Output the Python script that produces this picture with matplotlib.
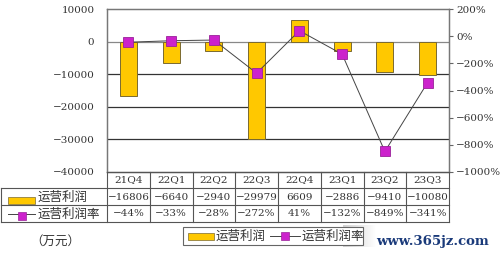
import numpy as np
import matplotlib
matplotlib.use("Agg")
import matplotlib.pyplot as plt
import matplotlib.transforms as mtransforms
from matplotlib.lines import Line2D
from matplotlib.patches import Rectangle

plt.rcParams['font.family'] = ['DejaVu Serif', 'Noto Sans CJK SC']

quarters = ['21Q4', '22Q1', '22Q2', '22Q3', '22Q4', '23Q1', '23Q2', '23Q3']
profit = [-16806, -6640, -2940, -29979, 6609, -2886, -9410, -10080]
margin = [-44, -33, -28, -272, 41, -132, -849, -341]
profit_name = '运营利润'
margin_name = '运营利润率'
left_ticks = [10000, 0, -10000, -20000, -30000, -40000]
right_ticks = [200, 0, -200, -400, -600, -800, -1000]

bar_color = '#FFC800'
mk_color = '#CC22CC'
txt = '#333333'
fs = 7.5
cfs = 9

fig = plt.figure(figsize=(5, 2.6), dpi=100)
ax = fig.add_axes([0.214, 0.3385, 0.684, 0.6265])
ax2 = ax.twinx()

x = np.arange(len(quarters))
ax.bar(x, profit, width=0.4, color=bar_color, edgecolor='#7a6a30', linewidth=0.7, zorder=2)
ax.set_xlim(-0.5, len(quarters) - 0.5)
ax.set_ylim(-40000, 10000)
ax.set_yticks(left_ticks)
ax.set_yticklabels([str(v).replace('-', '−') for v in left_ticks], fontsize=fs, color=txt)
ax.tick_params(axis='y', length=0, pad=9)
ax.set_xticks([])
for v in [-10000, -20000, -30000]:
    ax.axhline(v, color='#333333', lw=0.9, zorder=1)
ax.axhline(0, color='#888888', lw=0.9, zorder=1)

ax2.plot(x, margin, color='#444444', lw=0.7, marker='s', markersize=6.5,
         markerfacecolor=mk_color, markeredgecolor='#992299', markeredgewidth=0.6, zorder=3)
ax2.set_ylim(-1000, 200)
ax2.set_yticks(right_ticks)
ax2.set_yticklabels([(str(v) + '%').replace('-', '−') for v in right_ticks], fontsize=fs, color=txt)
ax2.tick_params(axis='y', length=3, color='#666666', pad=2)

for a in (ax, ax2):
    for s in a.spines.values():
        s.set_color('#777777')
        s.set_linewidth(0.9)

# table under the chart
tr = mtransforms.blended_transform_factory(ax.transData, fig.transFigure)
def fy(py):
    return 1 - py / 260.0
rows_y = [172, 188, 205, 222]
lc = dict(color='#555555', lw=0.8, transform=tr, clip_on=False)
left_edge = -0.5 - 105 / 42.5
right_edge = len(quarters) - 0.5
fig.add_artist(Line2D([-0.5, right_edge], [fy(rows_y[0])] * 2, **lc))
for py in rows_y[1:]:
    fig.add_artist(Line2D([left_edge, right_edge], [fy(py)] * 2, **lc))
for i in range(len(quarters) + 1):
    fig.add_artist(Line2D([i - 0.5] * 2, [fy(rows_y[0]), fy(rows_y[3])], **lc))
fig.add_artist(Line2D([left_edge] * 2, [fy(rows_y[1]), fy(rows_y[3])], **lc))

for i, q in enumerate(quarters):
    fig.text(i, fy(180), q, transform=tr, ha='center', va='center', fontsize=fs, color=txt)
    fig.text(i, fy(197), str(profit[i]).replace('-', '−'), transform=tr, ha='center',
             va='center', fontsize=fs, color=txt)
    fig.text(i, fy(214), (str(margin[i]) + '%').replace('-', '−'), transform=tr, ha='center',
             va='center', fontsize=fs, color=txt)

# row labels with symbols
fig.add_artist(Rectangle((8 / 500, fy(204)), 27 / 500, 7 / 260, transform=fig.transFigure,
                         facecolor=bar_color, edgecolor='#7a6a30', lw=0.5))
fig.text(38 / 500, fy(197), profit_name, fontsize=cfs, color=txt, va='center')
fig.add_artist(Line2D([8 / 500, 35 / 500], [fy(214)] * 2, color='#444444', lw=0.7,
                      transform=fig.transFigure))
fig.add_artist(Line2D([21.5 / 500], [fy(216)], marker='s', markersize=6, markerfacecolor=mk_color,
                      markeredgecolor='#992299', markeredgewidth=0.5, transform=fig.transFigure))
fig.text(38 / 500, fy(214), margin_name, fontsize=cfs, color=txt, va='center')

# legend at the bottom
fig.add_artist(Rectangle((183 / 500, fy(245)), 180 / 500, 18 / 260, transform=fig.transFigure,
                         facecolor='white', edgecolor='#666666', lw=0.8))
fig.add_artist(Rectangle((188 / 500, fy(240)), 26 / 500, 7 / 260, transform=fig.transFigure,
                         facecolor=bar_color, edgecolor='#7a6a30', lw=0.5))
fig.text(216 / 500, fy(236), profit_name, fontsize=cfs, color=txt, va='center')
fig.add_artist(Line2D([270 / 500, 300 / 500], [fy(236)] * 2, color='#444444', lw=0.7,
                      transform=fig.transFigure))
fig.add_artist(Line2D([285 / 500], [fy(236)], marker='s', markersize=6, markerfacecolor=mk_color,
                      markeredgecolor='#992299', markeredgewidth=0.5, transform=fig.transFigure))
fig.text(302 / 500, fy(236), margin_name, fontsize=cfs, color=txt, va='center')

# blurred watermark patch
gax = fig.add_axes([343 / 500, fy(247), 34 / 500, 22 / 260])
grad = np.linspace(0.82, 1.0, 50)[None, :].repeat(10, axis=0)
gax.imshow(grad, cmap='gray', vmin=0, vmax=1, aspect='auto', interpolation='bilinear')
gax.axis('off')

fig.text(30 / 500, fy(241), '（万元）', fontsize=cfs, color=txt, va='center',
         family=['Noto Sans CJK SC'])
fig.text(376 / 500, fy(242), 'www.365jz.com', fontsize=9.5, color='#1a3a7a', va='center',
         fontweight='bold')

fig.savefig('out.png', dpi=100)
